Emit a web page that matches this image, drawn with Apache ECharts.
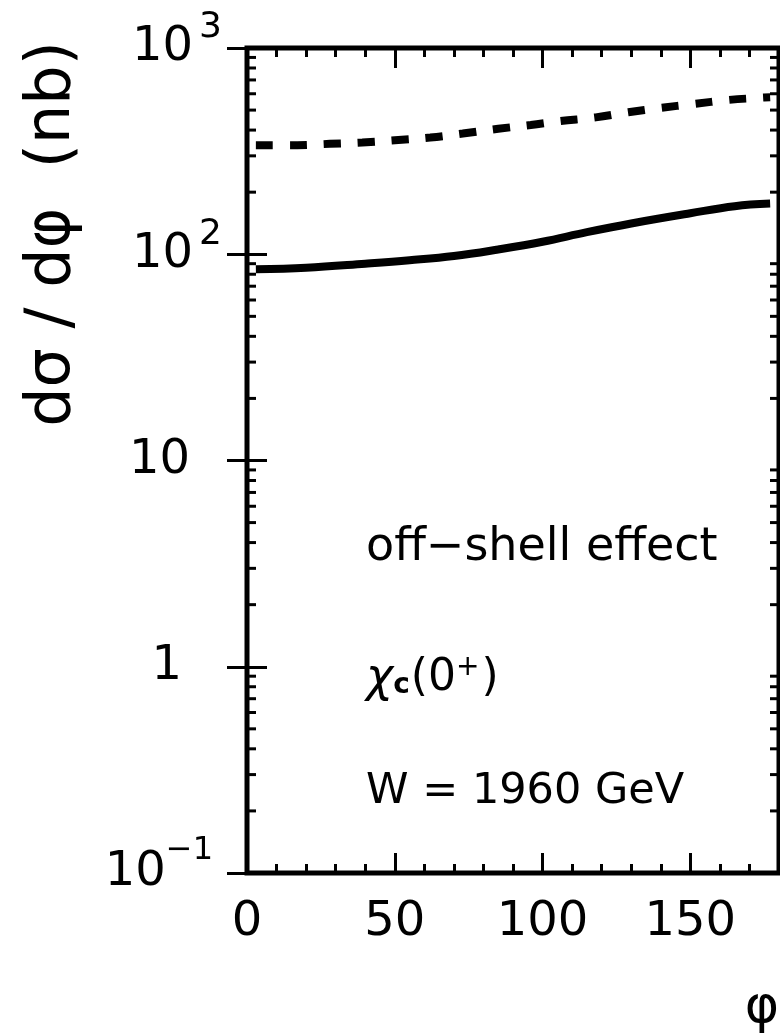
<!DOCTYPE html>
<html><head><meta charset="utf-8">
<script src="https://cdn.jsdelivr.net/npm/echarts@6/dist/echarts.min.js"></script>
<style>html,body{margin:0;padding:0;background:#fff}#c{width:780px;height:1034px}</style>
</head><body><div id="c"></div>
<script>
// ---- data ----
const phiSolid   = [3, 20, 40, 55, 70, 85, 100, 115, 130, 150, 165, 177];
const sigmaSolid = [84.5, 86, 90, 93.5, 98, 105.5, 115, 128, 141, 158, 171, 176];
const phiDashed   = [3, 17, 28, 39, 50, 62, 73, 85, 96, 106, 118, 129, 140, 151, 163, 174, 177];
const sigmaDashed = [338, 338, 343, 348, 357, 368, 385, 406, 423, 442, 461, 488, 513, 535, 560, 574, 577];
const xMin = 0, xMax = 180, xMajor = 50, xMinor = 10;
const yMin = 0.1, yMax = 1000;
const yMinorTicks = [0.2,0.3,0.4,0.5,0.6,0.7,0.8,0.9, 2,3,4,5,6,7,8,9, 20,30,40,50,60,70,80,90, 200,300,400,500,600,700,800,900];
const yTickLabels = {'-1':'{b|10}{sm|−1}', '0':'{t1|1}', '1':'{t10|10}', '2':'{b|10}{s|2}', '3':'{b|10}{s|3}'};
const annotations = ['off−shell effect', '{chi|χ}{sub|c}{n|(0}{sup|+}{n|)}', 'W = 1960 GeV'];
const yTitle = 'dσ / dφ  (nb)';
const xTitle = 'φ';

const FONT = '"DejaVu Sans", "Liberation Sans", sans-serif';
const chart = echarts.init(document.getElementById('c'), null, {renderer:'canvas'});

function tickAxisX(pos, interval, len, labels) {
  return {
    type:'value', position:pos, min:xMin, max:xMax, interval:interval,
    axisLine:{show:false}, splitLine:{show:false},
    axisTick:{show:true, inside:true, length:len, lineStyle:{color:'#000', width:3}},
    axisLabel: labels ? {show:true, showMaxLabel:false, margin:26, color:'#000', fontSize:48, fontFamily:FONT} : {show:false}
  };
}
function tickAxisY(pos, labels) {
  return {
    type:'log', logBase:10, position:pos, min:yMin, max:yMax,
    axisLine:{show:false}, splitLine:{show:false}, minorTick:{show:false},
    axisTick:{show:true, inside:true, length:20, lineStyle:{color:'#000', width:3}},
    axisLabel: labels ? {
      show:true, margin:25, color:'#000', fontFamily:FONT,
      formatter: v => yTickLabels[String(Math.round(Math.log10(v)))] || '',
      rich:{
        b:{fontSize:48, lineHeight:48, fontFamily:FONT, color:'#000'},
        s:{fontSize:36, lineHeight:36, padding:[0,0,40,6], fontFamily:FONT, color:'#000'},
        sm:{fontSize:32, lineHeight:32, padding:[0,9,44,0], fontFamily:FONT, color:'#000'},
        t10:{fontSize:48, lineHeight:48, padding:[0,32,0,0], fontFamily:FONT, color:'#000'},
        t1:{fontSize:48, lineHeight:48, padding:[0,40,0,0], fontFamily:FONT, color:'#000'}
      }
    } : {show:false}
  };
}

const option = {
  backgroundColor:'#fff',
  animation:false,
  grid:{left:247, top:48, width:532, height:825, show:true, borderColor:'#000', borderWidth:5, backgroundColor:'transparent'},
  xAxis:[
    tickAxisX('bottom', xMajor, 20, true),
    tickAxisX('bottom', xMinor, 9, false),
    tickAxisX('top', xMajor, 20, false),
    tickAxisX('top', xMinor, 9, false)
  ],
  yAxis:[ tickAxisY('left', true), tickAxisY('right', false) ],
  series:[
    {
      type:'line', name:'solid', xAxisIndex:0, yAxisIndex:0, showSymbol:false, smooth:0.4,
      data: phiSolid.map((p,i)=>[p, sigmaSolid[i]]),
      lineStyle:{color:'#000', width:8, cap:'butt'}
    },
    {
      type:'line', name:'dashed', xAxisIndex:0, yAxisIndex:0, showSymbol:false, smooth:0.4,
      data: phiDashed.map((p,i)=>[p, sigmaDashed[i]]),
      lineStyle:{color:'#000', width:8, type:[17,17], cap:'butt'}
    },
    {
      type:'custom', name:'yMinor', xAxisIndex:0, yAxisIndex:0, silent:true, clip:false,
      data: yMinorTicks.map(v=>[xMin, v]),
      encode:{x:0, y:1},
      renderItem:(params, api)=>{
        const v = api.value(1);
        const pl = api.coord([xMin, v]);
        const pr = api.coord([xMax, v]);
        return {type:'group', children:[
          {type:'line', shape:{x1:pl[0], y1:pl[1], x2:pl[0]+9, y2:pl[1]}, style:{stroke:'#000', lineWidth:3}},
          {type:'line', shape:{x1:pr[0]-9, y1:pr[1], x2:pr[0], y2:pr[1]}, style:{stroke:'#000', lineWidth:3}}
        ]};
      }
    }
  ],
  graphic:[
    {type:'text', x:53, y:234, rotation:Math.PI/2, style:{text:yTitle, font:'62px '+FONT, fill:'#000', align:'center', verticalAlign:'middle'}},
    {type:'text', x:762, y:1008, style:{text:xTitle, font:'52px '+FONT, fill:'#000', align:'center', verticalAlign:'middle'}},
    {type:'text', x:366, y:548, style:{text:annotations[0], font:'46px '+FONT, fill:'#000', align:'left', verticalAlign:'middle'}},
    {type:'text', x:366, y:679, style:{text:annotations[1], fill:'#000', align:'left', verticalAlign:'middle',
      rich:{
        chi:{fontSize:46, fontStyle:'italic', fontFamily:FONT, color:'#000', lineHeight:46},
        sub:{fontSize:28, fontFamily:FONT, fontWeight:'bold', color:'#000', lineHeight:28, padding:[14,1,0,0]},
        n:{fontSize:44, fontFamily:FONT, color:'#000', lineHeight:44},
        sup:{fontSize:28, fontFamily:FONT, color:'#000', lineHeight:28, padding:[0,2,22,0]}
      }}},
    {type:'text', x:366, y:792, style:{text:annotations[2], font:'43px '+FONT, fill:'#000', align:'left', verticalAlign:'middle'}}
  ]
};
chart.setOption(option);
</script></body></html>
